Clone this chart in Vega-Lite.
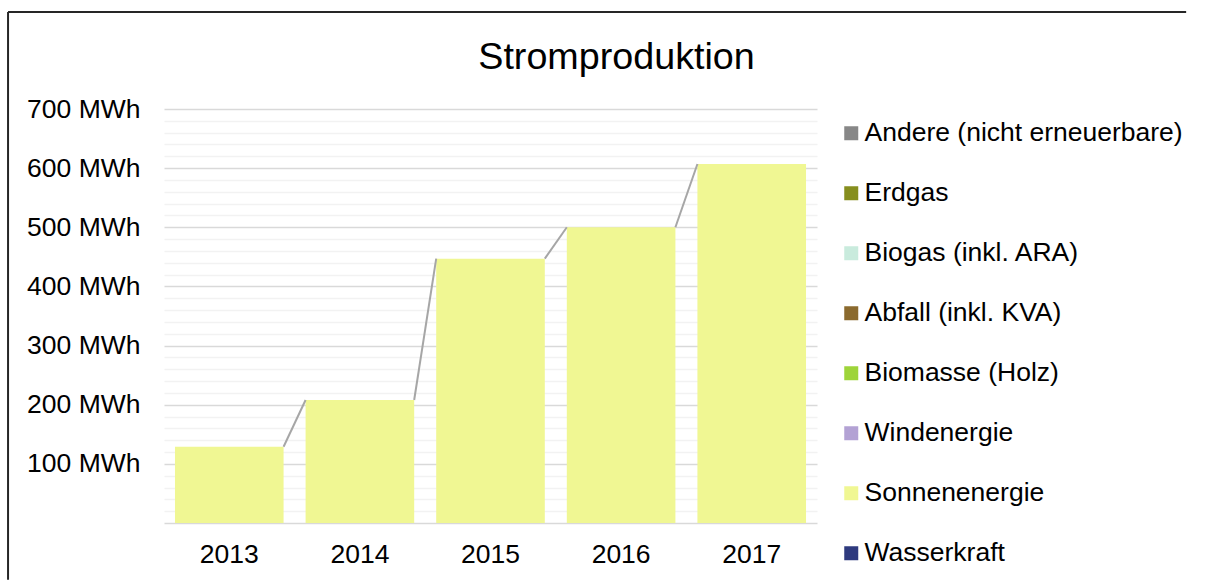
{
  "$schema": "https://vega.github.io/schema/vega-lite/v6.json",
  "width": 653,
  "height": 414,
  "autosize": {"type": "none"},
  "padding": {"left": 164, "top": 109, "right": 396, "bottom": 57},
  "background": "white",
  "title": {
    "text": "Stromproduktion",
    "fontSize": 37.7,
    "font": "Liberation Sans",
    "fontWeight": "normal",
    "color": "#000000",
    "anchor": "middle",
    "baseline": "alphabetic",
    "dx": 126,
    "dy": 96,
    "offset": 0
  },
  "config": {
    "view": {"stroke": null},
    "font": "Liberation Sans"
  },
  "datasets": {
    "bars": [
      {"Jahr": "2013", "Quelle": "Sonnenenergie", "MWh": 129},
      {"Jahr": "2014", "Quelle": "Sonnenenergie", "MWh": 208},
      {"Jahr": "2015", "Quelle": "Sonnenenergie", "MWh": 447},
      {"Jahr": "2016", "Quelle": "Sonnenenergie", "MWh": 500},
      {"Jahr": "2017", "Quelle": "Sonnenenergie", "MWh": 607}
    ],
    "lines": [
      {"von": "2013", "bis": "2014", "a": 129, "b": 208},
      {"von": "2014", "bis": "2015", "a": 208, "b": 447},
      {"von": "2015", "bis": "2016", "a": 447, "b": 500},
      {"von": "2016", "bis": "2017", "a": 500, "b": 607}
    ],
    "rahmen_oben": [
      {"von": "2013", "bis": "2017", "y": 864}
    ],
    "rahmen_links": [
      {"von": "2013", "y": 864, "y2": -96}
    ]
  },
  "layer": [
    {
      "data": {"name": "bars"},
      "mark": {"type": "bar"},
      "encoding": {
        "x": {
          "field": "Jahr",
          "type": "nominal",
          "scale": {"paddingInner": 0.1685, "paddingOuter": 0.084},
          "axis": {
            "title": null,
            "labelAngle": 0,
            "labelFontSize": 26.5,
            "labelColor": "#000000",
            "labelPadding": 18,
            "ticks": false,
            "tickSize": 0,
            "domainColor": "#d9d9d9",
            "domainWidth": 1.5,
            "grid": false
          }
        },
        "y": {
          "field": "MWh",
          "type": "quantitative",
          "stack": "zero",
          "scale": {"domain": [0, 700], "nice": false},
          "axis": {
            "title": null,
            "orient": "left",
            "values": [100, 200, 300, 400, 500, 600, 700],
            "labelExpr": "datum.value + ' MWh'",
            "labelFontSize": 26.5,
            "labelColor": "#000000",
            "labelPadding": 24,
            "ticks": false,
            "tickSize": 0,
            "domain": false,
            "grid": true,
            "gridColor": "#d9d9d9",
            "gridWidth": 1.3
          }
        },
        "color": {
          "field": "Quelle",
          "type": "nominal",
          "scale": {
            "domain": ["Andere (nicht erneuerbare)", "Erdgas", "Biogas (inkl. ARA)", "Abfall (inkl. KVA)", "Biomasse (Holz)", "Windenergie", "Sonnenenergie", "Wasserkraft"],
            "range": ["#878787", "#868e1e", "#c9ebdd", "#8b6a2e", "#9ed43a", "#b3a2d4", "#f0f793", "#2e3a7e"]
          },
          "legend": {
            "title": null,
            "orient": "none",
            "legendX": 674,
            "legendY": 11,
            "padding": 0,
            "symbolType": "square",
            "symbolSize": 196,
            "symbolStrokeWidth": 0,
            "labelFontSize": 26.5,
            "labelColor": "#000000",
            "labelOffset": 0,
            "rowPadding": 33,
            "labelLimit": 500
          }
        }
      }
    },
    {
      "data": {"name": "lines"},
      "mark": {"type": "rule", "color": "#a6a6a6", "strokeWidth": 2},
      "encoding": {
        "x": {"field": "von", "type": "nominal", "bandPosition": 1},
        "x2": {"field": "bis", "bandPosition": 0},
        "y": {
          "field": "a",
          "type": "quantitative",
          "axis": {
            "title": null,
            "orient": "right",
            "values": [20, 40, 60, 80, 120, 140, 160, 180, 220, 240, 260, 280, 320, 340, 360, 380, 420, 440, 460, 480, 520, 540, 560, 580, 620, 640, 660, 680],
            "labels": false,
            "ticks": false,
            "domain": false,
            "grid": true,
            "gridColor": "#f2f2f2",
            "gridWidth": 1.3
          }
        },
        "y2": {"field": "b"}
      }
    },
    {
      "data": {"name": "rahmen_oben"},
      "mark": {"type": "rule", "color": "#262626", "strokeWidth": 2},
      "encoding": {
        "x": {"field": "von", "type": "nominal", "bandPosition": -1.537},
        "x2": {"field": "bis", "bandPosition": 4.5},
        "y": {"field": "y", "type": "quantitative", "axis": null}
      }
    },
    {
      "data": {"name": "rahmen_links"},
      "mark": {"type": "rule", "color": "#262626", "strokeWidth": 2},
      "encoding": {
        "x": {"field": "von", "type": "nominal", "bandPosition": -1.537},
        "y": {"field": "y", "type": "quantitative", "axis": null},
        "y2": {"field": "y2"}
      }
    }
  ],
  "resolve": {"axis": {"y": "independent"}}
}
